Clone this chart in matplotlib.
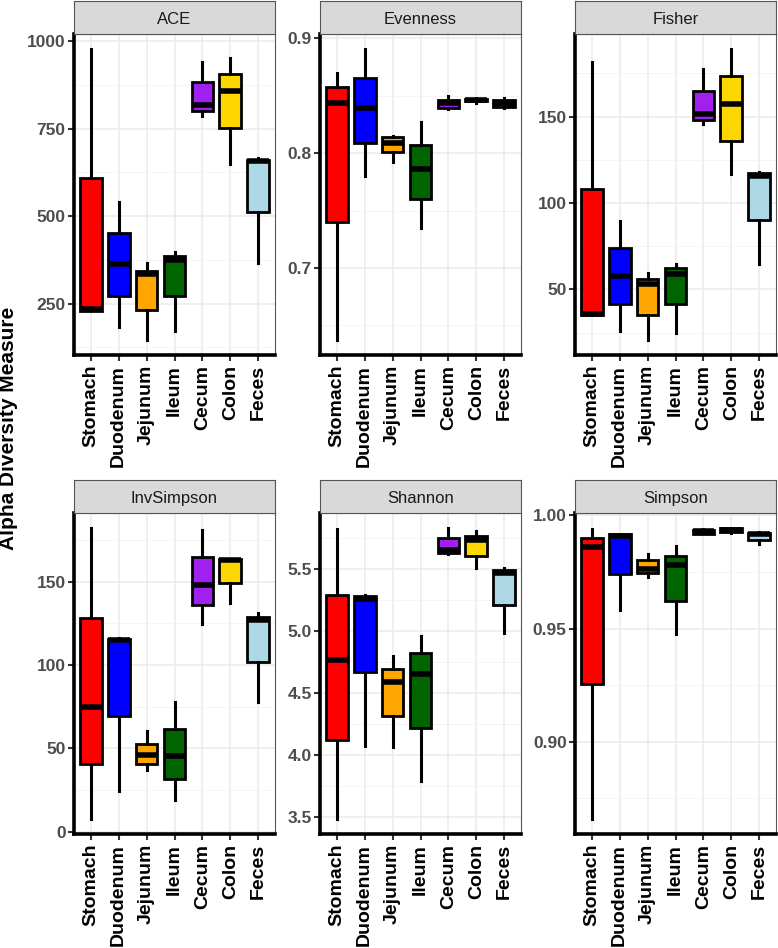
import matplotlib
matplotlib.use('Agg')
import matplotlib.pyplot as plt
from matplotlib.ticker import MultipleLocator, AutoMinorLocator, FormatStrFormatter

plt.rcParams['font.family'] = ['Liberation Sans', 'DejaVu Sans']

SITES = ['Stomach', 'Duodenum', 'Jejunum', 'Ileum', 'Cecum', 'Colon', 'Feces']
COLORS = ['#FF0000', '#0000FF', '#FFA500', '#006400', '#A020F0', '#FFD700', '#ADD8E6']

# each row: whisker low, q1, median, q3, whisker high
ACE = [[230, 230, 236, 608, 979],
       [183, 272, 363, 451, 540],
       [145, 231, 334, 344, 365],
       [173, 272, 375, 386, 397],
       [787, 800, 818, 883, 941],
       [650, 751, 857, 906, 952],
       [365, 512, 658, 662, 665]]
EVENNESS = [[0.637, 0.740, 0.844, 0.858, 0.870],
            [0.780, 0.809, 0.839, 0.865, 0.891],
            [0.792, 0.801, 0.809, 0.814, 0.815],
            [0.735, 0.760, 0.786, 0.807, 0.827],
            [0.838, 0.839, 0.844, 0.846, 0.850],
            [0.844, 0.845, 0.846, 0.847, 0.848],
            [0.839, 0.840, 0.843, 0.846, 0.848]]
FISHER = [[35, 35, 36, 108.4, 181.6],
          [26, 41.5, 57.8, 73.9, 89.8],
          [20.5, 35.4, 53, 55.8, 59.7],
          [24.8, 41.8, 59, 62.6, 64.8],
          [145.7, 148.2, 151.5, 165, 177.4],
          [117, 136, 157.4, 173.3, 189.4],
          [64.8, 90.4, 115.6, 117.2, 118.2]]
INVSIMPSON = [[7.4, 40.7, 74.6, 128.3, 182.5],
              [24.5, 69.2, 114.9, 115.7, 116.3],
              [37.1, 40.7, 46.1, 52.7, 60.6],
              [19, 31.5, 45.5, 61.8, 77.8],
              [124.9, 135.8, 148, 164.6, 180.9],
              [137.4, 149, 162.8, 163.4, 163.8],
              [77.6, 101.9, 126.9, 128.9, 131]]
SHANNON = [[3.478, 4.114, 4.765, 5.289, 5.816],
           [4.068, 4.668, 5.257, 5.278, 5.284],
           [4.059, 4.311, 4.586, 4.689, 4.792],
           [3.789, 4.216, 4.654, 4.819, 4.959],
           [5.614, 5.622, 5.649, 5.743, 5.830],
           [5.505, 5.603, 5.730, 5.762, 5.803],
           [4.978, 5.208, 5.460, 5.486, 5.505]]
SIMPSON = [[0.8657, 0.9257, 0.9860, 0.9900, 0.9938],
           [0.9584, 0.9743, 0.9910, 0.9916, 0.9919],
           [0.9728, 0.9746, 0.9763, 0.9804, 0.9828],
           [0.9475, 0.9622, 0.9780, 0.9822, 0.9863],
           [0.9916, 0.9919, 0.9930, 0.9937, 0.9938],
           [0.9924, 0.9926, 0.9937, 0.9944, 0.9946],
           [0.9872, 0.9890, 0.9919, 0.9924, 0.9926]]

PANELS = [('ACE', ACE, 250, '%d'),
          ('Evenness', EVENNESS, 0.1, '%.1f'),
          ('Fisher', FISHER, 50, '%d'),
          ('InvSimpson', INVSIMPSON, 50, '%d'),
          ('Shannon', SHANNON, 0.5, '%.1f'),
          ('Simpson', SIMPSON, 0.05, '%.2f')]

W, H = 778, 948
fig = plt.figure(figsize=(W / 100, H / 100), dpi=100)

col_x = [74, 320, 575]
col_w = 201
row_top = [34, 513]
ax_h = 321
strip_h = 33

for i, (name, rows, step, fmt) in enumerate(PANELS):
    r, cidx = divmod(i, 3)
    x0 = col_x[cidx]
    ytop = row_top[r]
    ax = fig.add_axes([x0 / W, 1 - (ytop + ax_h) / H, col_w / W, ax_h / H])
    sax = fig.add_axes([x0 / W, 1 - ytop / H, col_w / W, strip_h / H])

    stats = [dict(whislo=v[0], q1=v[1], med=v[2], q3=v[3], whishi=v[4], fliers=[])
             for v in rows]
    bp = ax.bxp(stats, positions=range(1, 8), widths=0.78, showcaps=False,
                patch_artist=True,
                boxprops=dict(linewidth=2.0, edgecolor='black'),
                whiskerprops=dict(linewidth=2.2, color='black'),
                medianprops=dict(linewidth=4.0, color='black', solid_capstyle='butt'),
                zorder=3)
    for patch, col in zip(bp['boxes'], COLORS):
        patch.set_facecolor(col)

    lo = min(v[0] for v in rows)
    hi = max(v[4] for v in rows)
    pad = (hi - lo) * 0.05
    ax.set_ylim(lo - pad, hi + pad)
    ax.set_xlim(0.4, 7.6)
    ax.yaxis.set_major_locator(MultipleLocator(step))
    ax.yaxis.set_minor_locator(AutoMinorLocator(2))
    ax.yaxis.set_major_formatter(FormatStrFormatter(fmt))
    ax.set_xticks(range(1, 8))
    ax.set_xticklabels(SITES, rotation=90, fontsize=14, fontweight='bold', color='black')
    for lab in ax.get_yticklabels():
        lab.set_fontsize(12.5)
        lab.set_fontweight('bold')
        lab.set_color('#4D4D4D')

    ax.grid(True, which='major', color='#EBEBEB', linewidth=1.1, zorder=0)
    ax.grid(True, which='minor', axis='y', color='#F2F2F2', linewidth=0.6, zorder=0)
    ax.set_axisbelow(True)
    ax.tick_params(axis='both', which='major', length=4, width=1.5, color='#333333', pad=2)
    ax.tick_params(axis='x', which='major', pad=3)
    ax.tick_params(axis='y', which='minor', length=0)

    for side in ('top', 'right'):
        ax.spines[side].set_color('#555555')
        ax.spines[side].set_linewidth(0.8)
    for side in ('left', 'bottom'):
        ax.spines[side].set_color('black')
        ax.spines[side].set_linewidth(2.6)

    sax.set_facecolor('#D9D9D9')
    sax.set_xticks([])
    sax.set_yticks([])
    for sp in sax.spines.values():
        sp.set_color('#555555')
        sp.set_linewidth(0.8)
    sax.text(0.5, 0.45, name, ha='center', va='center', fontsize=12, color='#1A1A1A',
             transform=sax.transAxes)

fig.text(9 / W, 1 - 428 / H, 'Alpha Diversity Measure', rotation=90, ha='center',
         va='center', fontsize=15, fontweight='bold')

fig.savefig('out.png', dpi=100)
